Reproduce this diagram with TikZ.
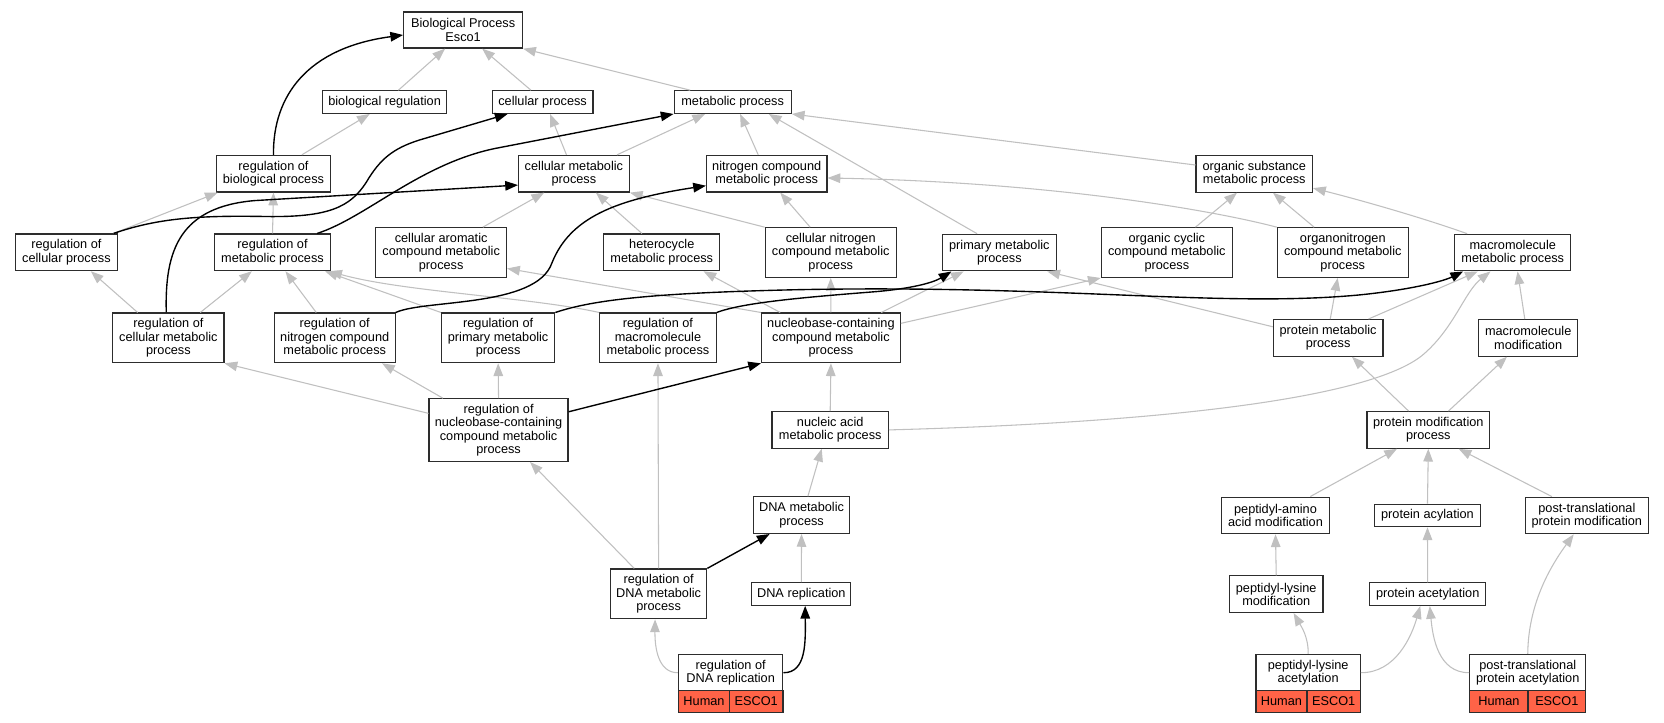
\documentclass[tikz,border=0pt]{standalone}
\usepackage{fontspec}
\setmainfont{Liberation Sans}
\usetikzlibrary{arrows.meta,calc}
\definecolor{edgegray}{RGB}{192,192,192}
\definecolor{tomatoc}{RGB}{255,99,71}
\definecolor{borderc}{RGB}{45,45,45}
\begin{document}
\begin{tikzpicture}[x=1pt,y=-1pt,
  box/.style={draw=borderc, line width=1.1pt, fill=white, inner sep=0pt, align=center, font=\fontsize{12}{12.6}\selectfont},
  cell/.style={box, fill=tomatoc},
  ge/.style={draw=edgegray, line width=1pt, -{Triangle[length=12pt,width=9pt]}},
  be/.style={draw=black, line width=1.3pt, -{Triangle[length=12pt,width=9pt]}}]
\fill[white] (0,0) rectangle (1568,681);
\useasboundingbox (0,0) rectangle (1568,681);

% nodes
\node[box,minimum width=112pt,minimum height=34pt] (BP) at (436.4,28.3) {Biological Process\\Esco1};
\node[box,minimum width=116.7pt,minimum height=21.3pt] (breg) at (362.4,96.2) {biological regulation};
\node[box,minimum width=95pt,minimum height=21.3pt] (cp) at (511.3,96.2) {cellular process};
\node[box,minimum width=110.4pt,minimum height=21.3pt] (mp) at (690.4,96.2) {metabolic process};
\node[box,minimum width=108pt,minimum height=34.5pt] (rbp) at (257.7,163.7) {regulation of\\biological process};
\node[box,minimum width=104.3pt,minimum height=34.5pt] (cmp) at (540.8,163.7) {cellular metabolic\\process};
\node[box,minimum width=113.5pt,minimum height=34.5pt] (ncmp) at (722.5,163.7) {nitrogen compound\\metabolic process};
\node[box,minimum width=109.7pt,minimum height=34.5pt] (osmp) at (1181.9,163.8) {organic substance\\metabolic process};
\node[box,minimum width=95.6pt,minimum height=34.5pt] (rcp) at (62.6,237.8) {regulation of\\cellular process};
\node[box,minimum width=109.7pt,minimum height=34.5pt] (rmp) at (256.8,237.8) {regulation of\\metabolic process};
\node[box,minimum width=123.2pt,minimum height=46.8pt] (camp) at (415.7,238) {cellular aromatic\\compound metabolic\\process};
\node[box,minimum width=109.4pt,minimum height=34.5pt] (hmp) at (623.6,237.8) {heterocycle\\metabolic process};
\node[box,minimum width=123.5pt,minimum height=46.8pt] (cnmp) at (782.8,238) {cellular nitrogen\\compound metabolic\\process};
\node[box,minimum width=107.2pt,minimum height=34.5pt] (pmp) at (941.7,238) {primary metabolic\\process};
\node[box,minimum width=123.5pt,minimum height=46.8pt] (occmp) at (1099.5,238) {organic cyclic\\compound metabolic\\process};
\node[box,minimum width=123.4pt,minimum height=46.8pt] (onmp) at (1265.3,238) {organonitrogen\\compound metabolic\\process};
\node[box,minimum width=109.5pt,minimum height=34.5pt] (mmp) at (1425.5,238) {macromolecule\\metabolic process};
\node[box,minimum width=104.7pt,minimum height=46.8pt] (rcmp) at (158.7,318.4) {regulation of\\cellular metabolic\\process};
\node[box,minimum width=113.8pt,minimum height=46.8pt] (rncmp) at (315.4,318.4) {regulation of\\nitrogen compound\\metabolic process};
\node[box,minimum width=106.7pt,minimum height=46.8pt] (rpmp) at (469.4,318.4) {regulation of\\primary metabolic\\process};
\node[box,minimum width=109.7pt,minimum height=46.8pt] (rmmp) at (620,318.4) {regulation of\\macromolecule\\metabolic process};
\node[box,minimum width=130.7pt,minimum height=46.8pt] (nbmp) at (783,318.4) {nucleobase-containing\\compound metabolic\\process};
\node[box,minimum width=103.4pt,minimum height=34.5pt] (prmp) at (1251.5,318.4) {protein metabolic\\process};
\node[box,minimum width=93.2pt,minimum height=34.5pt] (mmod) at (1440,318.4) {macromolecule\\modification};
\node[box,minimum width=131pt,minimum height=59pt] (rnbmp) at (469.8,405.3) {regulation of\\nucleobase-containing\\compound metabolic\\process};
\node[box,minimum width=109.7pt,minimum height=34.5pt] (namp) at (782.3,405.1) {nucleic acid\\metabolic process};
\node[box,minimum width=115.6pt,minimum height=34.5pt] (pmod) at (1345.9,405.1) {protein modification\\process};
\node[box,minimum width=90.5pt,minimum height=34.5pt] (dmp) at (755.3,485.4) {DNA metabolic\\process};
\node[box,minimum width=102.1pt,minimum height=34.5pt] (pamod) at (1201.9,485.7) {peptidyl-amino\\acid modification};
\node[box,minimum width=99.6pt,minimum height=21.3pt] (pacyl) at (1345.1,485.7) {protein acylation};
\node[box,minimum width=116pt,minimum height=34.5pt] (ptpm) at (1495.3,485.7) {post-translational\\protein modification};
\node[box,minimum width=90.8pt,minimum height=47pt] (rdmp) at (620.6,559.6) {regulation of\\DNA metabolic\\process};
\node[box,minimum width=93.3pt,minimum height=21.3pt] (drep) at (755.1,559.7) {DNA replication};
\node[box,minimum width=88pt,minimum height=34.5pt] (plmod) at (1202.6,559.9) {peptidyl-lysine\\modification};
\node[box,minimum width=109.3pt,minimum height=21.3pt] (pacet) at (1345.3,559.9) {protein acetylation};
\node[box,minimum width=98.4pt,minimum height=34.3pt] (rdr) at (688.5,633.9) {regulation of\\DNA replication};
\node[cell,minimum width=48.1pt,minimum height=20pt] (rdrH) at (663.4,661) {Human};
\node[cell,minimum width=50.3pt,minimum height=20pt] (rdrE) at (712.6,661) {ESCO1};
\node[box,minimum width=98.3pt,minimum height=34.3pt] (pla) at (1232.7,633.9) {peptidyl-lysine\\acetylation};
\node[cell,minimum width=48pt,minimum height=20pt] (plaH) at (1207.5,661) {Human};
\node[cell,minimum width=50.3pt,minimum height=20pt] (plaE) at (1256.7,661) {ESCO1};
\node[box,minimum width=109.3pt,minimum height=34.3pt] (ptpa) at (1439.6,633.9) {post-translational\\protein acetylation};
\node[cell,minimum width=54.9pt,minimum height=20pt] (ptpaH) at (1412.4,661) {Human};
\node[cell,minimum width=54.4pt,minimum height=20pt] (ptpaE) at (1467,661) {ESCO1};

% gray edges
\draw[ge] ($(breg.north)+(13,0)$) -- ($(BP.south)+(-17,0)$);
\draw[ge] ($(cp.north)+(-11,0)$) -- ($(BP.south)+(18,0)$);
\draw[ge] ($(mp.north)+(-40,0)$) -- (BP.south east);
\draw[ge] ($(rbp.north)+(26.7,0)$) -- ($(breg.south)+(-14,0)$);
\draw[ge] ($(rcp.north east)+(-4,0)$) -- ($(rbp.south west)+(2,0)$);
\draw[ge] (rmp.north) -- (rbp.south);
\draw[ge] ($(cmp.north)+(-7,0)$) -- ($(cp.south)+(7,0)$);
\draw[ge] ($(cmp.north)+(40.6,0)$) -- ($(mp.south)+(-26,0)$);
\draw[ge] ($(ncmp.north)+(-8,0)$) -- ($(mp.south)+(7,0)$);
\draw[ge] ($(pmp.north)+(-21,0)$) -- ($(mp.south)+(34,0)$);
\draw[ge] ($(osmp.west)+(0,-8.3)$) -- (mp.south east);
\draw[ge] ($(rcmp.north)+(-29,0)$) -- ($(rcp.south)+(23,0)$);
\draw[ge] ($(rcmp.north)+(30,0)$) -- ($(rmp.south)+(-19.5,0)$);
\draw[ge] ($(rncmp.north)+(-17.4,0)$) -- ($(rmp.south)+(12.2,0)$);
\draw[ge] (rpmp.north west) -- ($(rmp.south)+(49.5,0)$);
\draw[ge] (rmmp.north west) .. controls (500,280) and (380,275) .. ($(rmp.south east)+(-2,0)$);
\draw[ge] ($(camp.north)+(39.3,0)$) -- ($(cmp.south)+(-28,0)$);
\draw[ge] ($(hmp.north)+(-18.7,0)$) -- ($(cmp.south)+(20.7,0)$);
\draw[ge] (cnmp.north west) -- (cmp.south east);
\draw[ge] ($(cnmp.north)+(-19.4,0)$) -- ($(ncmp.south)+(12.7,0)$);
\draw[ge] (onmp.north west) .. controls (1150,200) and (1000,172) .. ($(ncmp.east)+(0,4)$);
\draw[ge] ($(occmp.north)+(27,0)$) -- ($(osmp.south)+(-16.3,0)$);
\draw[ge] ($(onmp.north)+(-27,0)$) -- ($(osmp.south)+(17.6,0)$);
\draw[ge] ($(mmp.north)+(-43,0)$) .. controls (1340,205) and (1280,188) .. ($(osmp.east)+(0,13.5)$);
\draw[ge] ($(prmp.north)+(38,0)$) -- ($(mmp.south)+(-33,0)$);
\draw[ge] ($(prmp.north)+(2,0)$) -- ($(onmp.south)+(-4.8,0)$);
\draw[ge] ($(prmp.west)+(0,-10.5)$) -- ($(pmp.south east)+(-9,0)$);
\draw[ge] ($(mmod.north)+(-3.2,0)$) -- ($(mmp.south)+(4.5,0)$);
\draw[ge] ($(pmod.north)+(-18.6,0)$) -- ($(prmp.south)+(22.5,0)$);
\draw[ge] ($(pmod.north)+(19,0)$) -- ($(mmod.south)+(-20,0)$);
\draw[ge] (nbmp.north west) -- ($(camp.east)+(0,15)$);
\draw[ge] ($(nbmp.north)+(-47.8,0)$) -- ($(hmp.south)+(39.3,0)$);
\draw[ge] (nbmp.north) -- (cnmp.south);
\draw[ge] ($(nbmp.north)+(47.4,0)$) -- ($(pmp.south)+(-33.7,0)$);
\draw[ge] ($(nbmp.east)+(0,-13.7)$) -- (occmp.south west);
\draw[ge] ($(rnbmp.west)+(0,-15.8)$) -- (rcmp.south east);
\draw[ge] ($(rnbmp.north)+(-52.4,0)$) -- ($(rncmp.south)+(44.6,0)$);
\draw[ge] (rnbmp.north) -- (rpmp.south);
\draw[ge] ($(rdmp.north)+(-23,0)$) -- ($(rnbmp.south)+(29.7,0)$);
\draw[ge] (rdmp.north) -- (rmmp.south);
\draw[ge] (drep.north) -- (dmp.south);
\draw[ge] ($(dmp.north)+(6,0)$) -- ($(namp.south)+(-8,0)$);
\draw[ge] (namp.north) -- (nbmp.south);
\draw[ge] (namp.east) .. controls (1100,398) and (1290,375) .. (1340,335) .. controls (1370,310) and (1380,275) .. ($(mmp.south)+(-21,0)$);
\draw[ge] ($(pamod.north)+(32.8,0)$) -- ($(pmod.south)+(-29.5,0)$);
\draw[ge] (pacyl.north) -- (pmod.south);
\draw[ge] ($(ptpm.north)+(-33,0)$) -- ($(pmod.south)+(28.6,0)$);
\draw[ge] (plmod.north) -- (pamod.south);
\draw[ge] (pacet.north) -- (pacyl.south);
\draw[ge] (pla.north) .. controls (1233,600) and (1226,590) .. ($(plmod.south)+(16.4,0)$);
\draw[ge] (pla.east) .. controls (1315,634) and (1330,600) .. ($(pacet.south)+(-7,0)$);
\draw[ge] (ptpa.west) .. controls (1355,634) and (1350,600) .. ($(pacet.south)+(2,0)$);
\draw[ge] (ptpa.north) .. controls (1440,570) and (1460,535) .. ($(ptpm.south)+(-12.4,0)$);
\draw[ge] (rdr.west) .. controls (620,634) and (617,610) .. ($(rdmp.south)+(-3.3,0)$);

% black edges
\draw[be] (rbp.north) .. controls (257,90) and (290,45) .. ($(BP.west)+(0,4.7)$);
\draw[be] ($(rcp.north east)+(-4,0)$) .. controls (150,205) and (190,203) .. (250,204) .. controls (310,205) and (330,195) .. (345,172) .. controls (358,150) and (370,140) .. (395,132) -- ($(cp.south)+(-33,0)$);
\draw[be] ($(rmp.north east)+(-13.4,0)$) .. controls (345,205) and (395,155) .. (466,140) -- (mp.south west);
\draw[be] ($(rcmp.north)+(-2,0)$) .. controls (155,235) and (170,195) .. (240,189) -- ($(cmp.west)+(0,10.7)$);
\draw[be] (rncmp.north east) .. controls (400,282) and (505,290) .. (520,248) .. controls (537,205) and (580,188) .. ($(ncmp.west)+(0,11.3)$);
\draw[be] (rpmp.north east) .. controls (560,282) and (620,276) .. (750,273) .. controls (1000,268) and (1150,290) .. (1280,278) .. controls (1330,273) and (1360,265) .. ($(mmp.south west)+(8.5,0)$);
\draw[be] (rmmp.north east) .. controls (700,285) and (760,280) .. (823,275) .. controls (860,272) and (880,266) .. ($(pmp.south west)+(9,0)$);
\draw[be] ($(rnbmp.east)+(0,-17.3)$) -- (nbmp.south west);
\draw[be] (rdmp.north east) -- ($(dmp.south west)+(15.7,0)$);
\draw[be] (rdr.east) .. controls (760,634) and (759,605) .. ($(drep.south)+(3.6,0)$);
\end{tikzpicture}
\end{document}
